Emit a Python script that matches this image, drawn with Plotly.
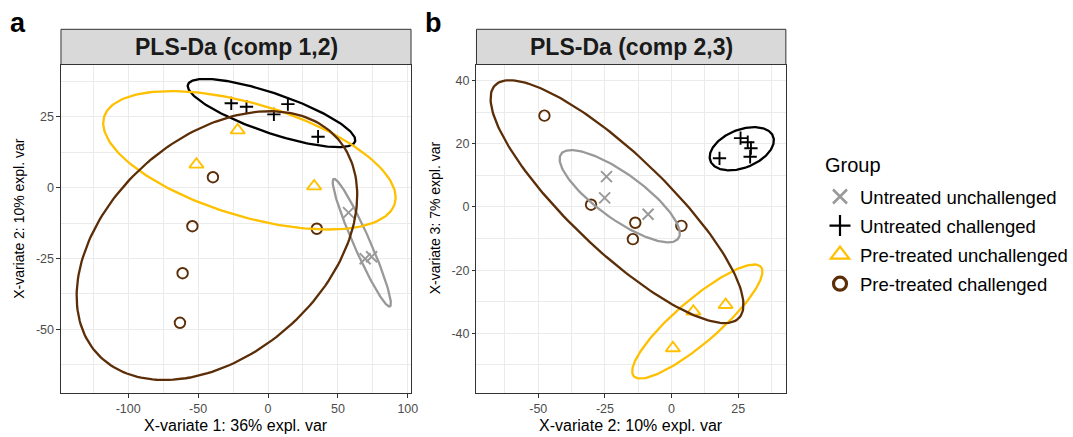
import numpy as np
import plotly.graph_objects as go

# ---- sample scores on the first three PLS-DA components, per group ----
groups = ["Untreated unchallenged", "Untreated challenged",
          "Pre-treated unchallenged", "Pre-treated challenged"]

uu_comp1 = [57.6, 69.5, 74.1]
uu_comp2 = [-8.8, -25.1, -24.4]
uu_comp3 = [-2.3, 2.9, 9.6]

uc_comp1 = [-26.3, -15.4, 4.2, 14.2, 35.8]
uc_comp2 = [29.8, 28.6, 25.9, 29.5, 18.0]
uc_comp3 = [18.6, 20.5, 21.8, 15.9, 15.4]

pu_comp1 = [-21.7, -51.2, 33.0]
pu_comp2 = [20.3, 8.2, 0.5]
pu_comp3 = [-31.0, -33.1, -44.7]

pc_comp1 = [-39.4, -54.1, 34.9, -61.1, -63.0]
pc_comp2 = [3.7, -13.6, -14.5, -30.2, -47.7]
pc_comp3 = [-6.0, -5.0, -10.2, 0.7, 28.9]

scores = {
    groups[0]: (uu_comp1, uu_comp2, uu_comp3),
    groups[1]: (uc_comp1, uc_comp2, uc_comp3),
    groups[2]: (pu_comp1, pu_comp2, pu_comp3),
    groups[3]: (pc_comp1, pc_comp2, pc_comp3),
}

panel_a_xticks = [-100, -50, 0, 50, 100]
panel_a_yticks = [-50, -25, 0, 25]
panel_b_xticks = [-50, -25, 0, 25]
panel_b_yticks = [-40, -20, 0, 20, 40]

# ---- styling ----
colors = {groups[0]: "#999999", groups[1]: "#000000",
          groups[2]: "#FFC000", groups[3]: "#5C2E08"}
symbols = {groups[0]: "x-thin-open", groups[1]: "cross-thin-open",
           groups[2]: "triangle-up-open", groups[3]: "circle-open"}
sizes = {groups[0]: 11, groups[1]: 9.5, groups[2]: 12.5, groups[3]: 10.5}
legend_sizes = {groups[0]: 14, groups[1]: 15, groups[2]: 16, groups[3]: 13}
legend_widths = {groups[0]: 2.6, groups[1]: 2.2, groups[2]: 2.2, groups[3]: 3.2}

FONT = "Liberation Sans, Arial, sans-serif"
W, H = 1073, 437


def confidence_ellipse(xs, ys, level=0.95, n=200):
    """95% normal-theory ellipse around a group's scores."""
    pts = np.column_stack([xs, ys]).astype(float)
    centre = pts.mean(axis=0)
    vals, vecs = np.linalg.eigh(np.cov(pts.T))
    t = np.sqrt(-2.0 * np.log(1.0 - level))  # sqrt(qchisq(level, 2))
    ang = np.linspace(0, 2 * np.pi, n)
    unit = np.column_stack([np.cos(ang), np.sin(ang)])
    e = centre + t * (unit * np.sqrt(np.clip(vals, 0, None))) @ vecs.T
    return e[:, 0], e[:, 1]


fig = go.Figure()

panels = [("x", "y", 0, 1), ("x2", "y2", 1, 2)]
for xa, ya, ci, cj in panels:
    for g in groups:
        c = scores[g]
        fig.add_trace(go.Scatter(
            x=c[ci], y=c[cj], xaxis=xa, yaxis=ya, mode="markers",
            marker=dict(symbol=symbols[g], size=sizes[g], color=colors[g],
                        line=dict(color=colors[g], width=1.9)),
            showlegend=False, legendgroup=g, hoverinfo="skip"))
    for g in groups:
        c = scores[g]
        ex, ey = confidence_ellipse(c[ci], c[cj])
        fig.add_trace(go.Scatter(
            x=ex, y=ey, xaxis=xa, yaxis=ya, mode="lines",
            line=dict(color=colors[g], width=2.3),
            showlegend=False, legendgroup=g, hoverinfo="skip"))

# legend keys
for g in groups:
    fig.add_trace(go.Scatter(
        x=[None], y=[None], mode="markers", name=g, legendgroup=g,
        marker=dict(symbol=symbols[g], size=legend_sizes[g], color=colors[g],
                    line=dict(color=colors[g], width=legend_widths[g]))))


def px_x(p):
    return p / W


def px_y(p):
    return 1 - p / H


def axis(domain, rng, ticks, minor, anchor):
    return dict(
        domain=domain, range=rng, anchor=anchor,
        tickmode="array", tickvals=ticks, ticktext=[str(t) for t in ticks],
        showgrid=True, gridcolor="#EBEBEB", gridwidth=1.1,
        minor=dict(tickvals=minor, showgrid=True, gridcolor="#EBEBEB",
                   gridwidth=0.6, ticks=""),
        zeroline=False, showline=True, linecolor="#333333", linewidth=1,
        mirror=True, ticks="outside", ticklen=3.5, tickwidth=1,
        tickcolor="#333333",
        tickfont=dict(family=FONT, size=12.5, color="#4D4D4D"),
    )


a_left, a_right = 61.5, 414.5
b_left, b_right = 480.5, 792.5
p_top, p_bottom = 64.5, 393
strip_top = 29.3
ydom = [px_y(p_bottom), px_y(p_top)]

fig.update_layout(
    width=W, height=H, margin=dict(l=0, r=0, t=0, b=0),
    paper_bgcolor="white", plot_bgcolor="white",
    font=dict(family=FONT, color="black"),
    xaxis=axis([px_x(a_left), px_x(a_right)], [-148.1, 102.3],
               panel_a_xticks, [-125, -75, -25, 25, 75], "y"),
    yaxis=axis(ydom, [-72.5, 43.5], panel_a_yticks,
               [-62.5, -37.5, -12.5, 12.5, 37.5], "x"),
    xaxis2=axis([px_x(b_left), px_x(b_right)], [-73.2, 42.9],
                panel_b_xticks, [-62.5, -37.5, -12.5, 12.5, 37.5], "y2"),
    yaxis2=axis(ydom, [-58.9, 45.1], panel_b_yticks,
                [-50, -30, -10, 10, 30], "x2"),
    legend=dict(
        x=px_x(827), y=px_y(178), xanchor="left", yanchor="top",
        bgcolor="rgba(0,0,0,0)", tracegroupgap=2,
        font=dict(family=FONT, size=18.5, color="black"),
    ),
)

# legend heading
fig.add_annotation(text="Group", xref="paper", yref="paper",
                   x=px_x(830), y=px_y(165), xanchor="left", yanchor="middle",
                   showarrow=False, font=dict(family=FONT, size=20, color="black"))

# facet strips
for left, right, label in [(a_left, a_right, "PLS-Da (comp 1,2)"),
                           (b_left, b_right, "PLS-Da (comp 2,3)")]:
    fig.add_shape(type="rect", xref="paper", yref="paper",
                  x0=px_x(left), x1=px_x(right), y0=px_y(p_top), y1=px_y(strip_top),
                  fillcolor="#D9D9D9", line=dict(color="#333333", width=1), layer="above")
    fig.add_annotation(text=label, xref="paper", yref="paper",
                       x=px_x((left + right) / 2), y=px_y((strip_top + p_top) / 2),
                       xanchor="center", yanchor="middle", showarrow=False,
                       font=dict(family=FONT, size=23, color="#1A1A1A", weight="bold"))

# axis titles
for left, right, text in [(a_left, a_right, "X-variate 1: 36% expl. var"),
                          (b_left, b_right, "X-variate 2: 10% expl. var")]:
    fig.add_annotation(text=text, xref="paper", yref="paper",
                       x=px_x((left + right) / 2), y=px_y(425),
                       xanchor="center", yanchor="middle", showarrow=False,
                       font=dict(family=FONT, size=16, color="black"))

for xc, text in [(19, "X-variate 2: 10% expl. var"), (439, "X-variate 3: 7% expl. var")]:
    fig.add_annotation(text=text, xref="paper", yref="paper", textangle=-90,
                       x=px_x(xc), y=px_y(218),
                       xanchor="center", yanchor="middle", showarrow=False,
                       font=dict(family=FONT, size=14, color="black"))

# panel tags
for xc, tag in [(18, "a"), (437, "b")]:
    fig.add_annotation(text=tag, xref="paper", yref="paper",
                       x=px_x(xc), y=px_y(23), xanchor="center", yanchor="middle",
                       showarrow=False,
                       font=dict(family=FONT, size=27, color="black", weight="bold"))

fig.write_html("out.html")
